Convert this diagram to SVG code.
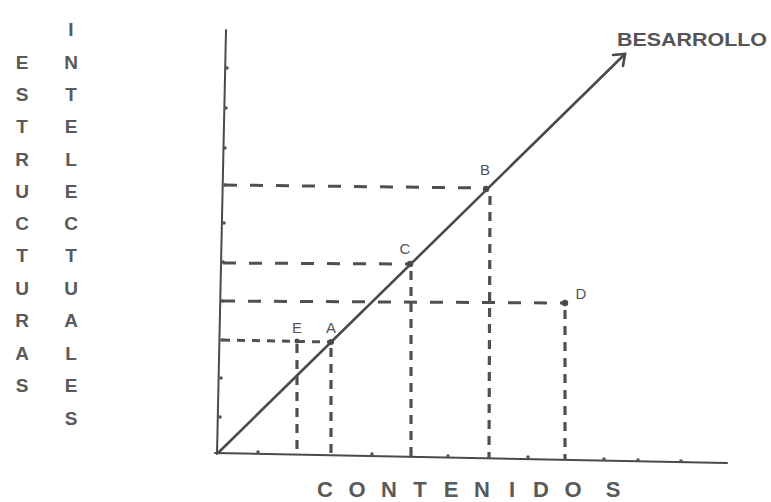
<svg xmlns="http://www.w3.org/2000/svg" width="771" height="502" viewBox="0 0 771 502">
<style>
.bg{fill:#ffffff}
.axis{stroke:#4a4a4a;stroke-width:2;fill:none;stroke-linecap:round}
.diag{stroke:#4a4a4a;stroke-width:2.6;fill:none;stroke-linecap:round}
.dh{stroke:#505050;stroke-width:3;fill:none;stroke-dasharray:13 13}
.dhs{stroke:#505050;stroke-width:3;fill:none;stroke-dasharray:8 7}
.dv{stroke:#505050;stroke-width:3.2;fill:none;stroke-dasharray:9 7}
.tick{fill:#555}
.pt{fill:#4a4a4a}
.vlab{font-family:"Liberation Sans",Arial,sans-serif;font-size:19px;font-weight:bold;fill:#5a5a5a;text-anchor:middle}
.hlab{font-family:"Liberation Sans",Arial,sans-serif;font-size:22px;font-weight:bold;fill:#5a5a5a;text-anchor:middle}
.plab{font-family:"Liberation Sans",Arial,sans-serif;font-size:15px;fill:#555;text-anchor:middle}
.title{font-family:"Liberation Sans",Arial,sans-serif;font-size:18px;font-weight:bold;fill:#555}
</style>
<rect class="bg" x="0" y="0" width="771" height="502"/>

<g id="axes">
  <line class="axis" x1="226" y1="30" x2="217" y2="454"/>
  <line class="axis" x1="215" y1="453" x2="727" y2="463"/>
  <g class="tick">
    <circle cx="227" cy="68" r="1.8"/>
    <circle cx="226" cy="108" r="1.8"/>
    <circle cx="225" cy="148" r="1.8"/>
    <circle cx="225" cy="185" r="1.8"/>
    <circle cx="224" cy="223" r="1.8"/>
    <circle cx="223" cy="262" r="1.8"/>
    <circle cx="222" cy="301" r="1.8"/>
    <circle cx="222" cy="340" r="1.8"/>
    <circle cx="221" cy="378" r="1.8"/>
    <circle cx="220" cy="417" r="1.8"/>
    <circle cx="258" cy="452" r="1.8"/>
    <circle cx="372" cy="454" r="1.8"/>
    <circle cx="448" cy="456" r="1.8"/>
    <circle cx="528" cy="457" r="1.8"/>
    <circle cx="604" cy="459" r="1.8"/>
    <circle cx="638" cy="460" r="1.8"/>
    <circle cx="681" cy="461" r="1.8"/>
  </g>
</g>

<g id="connectors">
  <line class="diag" x1="219" y1="452" x2="625" y2="54"/>
  <polyline class="diag" points="613,55 625,54 623,66"/>
  <line class="dh" x1="224" y1="185" x2="486" y2="188"/>
  <line class="dh" x1="223" y1="263" x2="410" y2="264"/>
  <line class="dh" x1="222" y1="301" x2="565" y2="303"/>
  <line class="dhs" x1="222" y1="340" x2="331" y2="342"/>
  <line class="dv" x1="490" y1="196" x2="489" y2="458"/>
  <line class="dv" x1="411" y1="271" x2="411" y2="458"/>
  <line class="dv" x1="565" y1="310" x2="565" y2="460"/>
  <line class="dv" x1="331" y1="348" x2="331" y2="455"/>
  <line class="dv" x1="297" y1="344" x2="297" y2="455"/>
</g>

<g id="point-B"><circle class="pt" cx="486" cy="189" r="3.2"/><text class="plab" x="485" y="175">B</text></g>
<g id="point-C"><circle class="pt" cx="410" cy="264" r="3.2"/><text class="plab" x="405" y="254">C</text></g>
<g id="point-D"><circle class="pt" cx="565" cy="303" r="3.2"/><text class="plab" x="581" y="299">D</text></g>
<g id="point-A"><circle class="pt" cx="331" cy="342" r="3"/><text class="plab" x="331" y="333">A</text></g>
<g id="point-E"><circle class="pt" cx="297" cy="341" r="2.5"/><text class="plab" x="297" y="333">E</text></g>

<g id="label-desarrollo"><text class="title" x="617" y="46" textLength="150" lengthAdjust="spacingAndGlyphs">BESARROLLO</text></g>

<g id="label-estructuras">
  <text class="vlab" x="22" y="69">E</text>
  <text class="vlab" x="22" y="101">S</text>
  <text class="vlab" x="22" y="133">T</text>
  <text class="vlab" x="22" y="166">R</text>
  <text class="vlab" x="22" y="198">U</text>
  <text class="vlab" x="22" y="230">C</text>
  <text class="vlab" x="22" y="262">T</text>
  <text class="vlab" x="22" y="295">U</text>
  <text class="vlab" x="22" y="327">R</text>
  <text class="vlab" x="22" y="360">A</text>
  <text class="vlab" x="22" y="392">S</text>
</g>
<g id="label-intelectuales">
  <text class="vlab" x="71" y="36">I</text>
  <text class="vlab" x="71" y="69">N</text>
  <text class="vlab" x="71" y="101">T</text>
  <text class="vlab" x="71" y="133">E</text>
  <text class="vlab" x="71" y="166">L</text>
  <text class="vlab" x="71" y="198">E</text>
  <text class="vlab" x="71" y="230">C</text>
  <text class="vlab" x="71" y="262">T</text>
  <text class="vlab" x="71" y="295">U</text>
  <text class="vlab" x="71" y="327">A</text>
  <text class="vlab" x="71" y="360">L</text>
  <text class="vlab" x="71" y="392">E</text>
  <text class="vlab" x="71" y="425">S</text>
</g>
<g id="label-contenidos">
  <text class="hlab" x="325 357 389 420 451 482 512 541 573 613" y="497">CONTENIDOS</text>
</g>
</svg>
